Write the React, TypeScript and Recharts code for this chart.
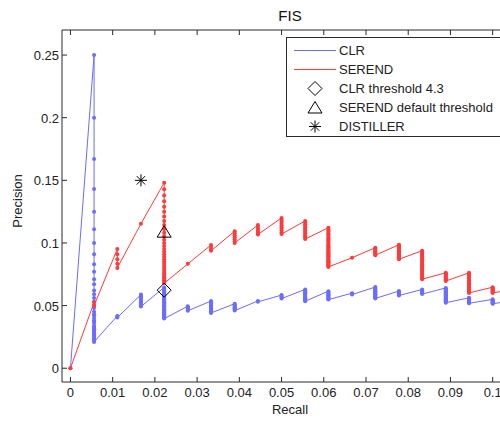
import { ComposedChart, Scatter, XAxis, YAxis } from "recharts";

const recallLevels = [
  0, 0.0056, 0.0111, 0.0167, 0.0222, 0.0278, 0.0333, 0.0389, 0.0444, 0.05,
  0.0556, 0.0611, 0.0667, 0.0722, 0.0778, 0.0833, 0.0889, 0.0944, 0.1, 0.1056,
];

// precision values in each column, top to bottom
const clrRuns = [
  [0],
  [0.25, 0.2, 0.167, 0.143, 0.125, 0.111, 0.1, 0.091, 0.083, 0.077, 0.071, 0.067, 0.062, 0.059, 0.056, 0.053, 0.05, 0.048, 0.045, 0.043, 0.042, 0.04, 0.038, 0.037, 0.036, 0.034, 0.033, 0.032, 0.031, 0.03, 0.029, 0.028, 0.027, 0.026, 0.025, 0.024, 0.023, 0.022, 0.021],
  [0.0417, 0.041, 0.0404],
  [0.0588, 0.0577, 0.0566, 0.0556, 0.0545, 0.0536, 0.0526, 0.0517, 0.0508, 0.05, 0.0492],
  [0.0645, 0.0635, 0.0625, 0.0615, 0.0606, 0.0597, 0.0588, 0.058, 0.0571, 0.0563, 0.0556, 0.0548, 0.0541, 0.0533, 0.0526, 0.0519, 0.0513, 0.0506, 0.05, 0.0494, 0.0488, 0.0482, 0.0476, 0.0471, 0.0465, 0.046, 0.0455, 0.0449, 0.0444, 0.044, 0.0435, 0.043, 0.0426, 0.0421, 0.0417, 0.0412, 0.0408, 0.0404, 0.04, 0.0396],
  [0.0495, 0.0485, 0.0476, 0.0467, 0.0459],
  [0.0536, 0.0526, 0.0517, 0.0508, 0.05, 0.0492, 0.0484, 0.0476, 0.0469, 0.0462, 0.0455, 0.0448, 0.0441],
  [0.0515, 0.0507, 0.05, 0.0493, 0.0486, 0.0479, 0.0473, 0.0467, 0.046],
  [0.0537, 0.053],
  [0.0584, 0.0577, 0.057, 0.0563, 0.0556],
  [0.0629, 0.0621, 0.0613, 0.0606, 0.0599, 0.0592, 0.0585, 0.0578, 0.0571, 0.0565, 0.0559, 0.0552, 0.0546, 0.054, 0.0535],
  [0.0615, 0.0608, 0.0601, 0.0594, 0.0588, 0.0582, 0.0576, 0.057, 0.0564, 0.0559, 0.0553, 0.0548],
  [0.0599, 0.0594, 0.0588],
  [0.0648, 0.0641, 0.0634, 0.0627, 0.0621, 0.0614, 0.0608, 0.0602, 0.0596, 0.059, 0.0584, 0.0578, 0.0573, 0.0567, 0.0562, 0.0557],
  [0.0616, 0.061, 0.0603, 0.0597, 0.0592, 0.0586, 0.058],
  [0.0629, 0.0622, 0.0616, 0.061, 0.0604, 0.0598, 0.0592],
  [0.0641, 0.0635, 0.0628, 0.0622, 0.0615, 0.0609, 0.0603, 0.0597, 0.0591, 0.0585, 0.058, 0.0574, 0.0569, 0.0563, 0.0558, 0.0553, 0.0548, 0.0543, 0.0538, 0.0533, 0.0528, 0.0523],
  [0.0562, 0.0556, 0.0551, 0.0546, 0.0541, 0.0536, 0.0531, 0.0527, 0.0522, 0.0518],
  [0.055, 0.0545, 0.054, 0.0535, 0.0531, 0.0526, 0.0522, 0.0517, 0.0514],
  [0.0546, 0.054],
];

const serendRuns = [
  [0],
  [0.0526, 0.05],
  [0.0952, 0.0909, 0.087, 0.0833, 0.08],
  [0.1154],
  [0.1481, 0.1429, 0.1379, 0.1333, 0.129, 0.125, 0.1212, 0.1176, 0.1143, 0.1111, 0.1081, 0.1053, 0.1026, 0.1, 0.0976, 0.0952, 0.093, 0.0909, 0.0889, 0.087, 0.0851, 0.0833, 0.0816, 0.08, 0.0784, 0.0769, 0.0755, 0.0741, 0.0727, 0.0714, 0.0702, 0.069, 0.0678],
  [0.0833],
  [0.0984, 0.0968, 0.0952, 0.0937],
  [0.1094, 0.1077, 0.1061, 0.1045, 0.1029, 0.1014, 0.1],
  [0.1143, 0.1127, 0.1111, 0.1096, 0.1081, 0.1067],
  [0.12, 0.1184, 0.1169, 0.1154, 0.1139, 0.1125, 0.1111, 0.1098, 0.1084, 0.1071],
  [0.1176, 0.1163, 0.1149, 0.1136, 0.1124, 0.1111, 0.1099, 0.1087, 0.1075, 0.1064, 0.1053, 0.1042, 0.1031],
  [0.1122, 0.1111, 0.11, 0.1089, 0.1078, 0.1068, 0.1058, 0.1048, 0.1038, 0.1028, 0.1019, 0.1009, 0.1, 0.0991, 0.0982, 0.0973, 0.0965, 0.0956, 0.0948, 0.094, 0.0932, 0.0924, 0.0917, 0.0909, 0.0902, 0.0894, 0.0887, 0.088, 0.0873, 0.0866, 0.0859, 0.0853, 0.0846, 0.084, 0.0833, 0.0827, 0.0821, 0.0815, 0.0809],
  [0.0882],
  [0.0962, 0.0954, 0.0946, 0.0939, 0.0931, 0.0924, 0.0917, 0.0909, 0.0902],
  [0.0986, 0.0979, 0.0972, 0.0966, 0.0959, 0.0952, 0.0946, 0.094, 0.0933, 0.0927, 0.0921, 0.0915, 0.0909, 0.0903, 0.0897, 0.0892, 0.0886, 0.0881, 0.0875, 0.087],
  [0.0938, 0.0926, 0.0914, 0.0903, 0.0892, 0.0881, 0.087, 0.086, 0.085, 0.084, 0.083, 0.0821, 0.0812, 0.0803, 0.0794, 0.0785, 0.0777, 0.0768, 0.076, 0.0752, 0.0744, 0.0737, 0.0729, 0.0722, 0.0714, 0.0711],
  [0.0762, 0.0754, 0.0747, 0.0739, 0.0732, 0.0724, 0.0717, 0.071, 0.0703, 0.0696],
  [0.0762, 0.075, 0.0738, 0.0726, 0.0714, 0.0702, 0.069, 0.0679, 0.0668, 0.0657, 0.0646, 0.0636, 0.0626, 0.0616, 0.0606, 0.0601],
  [0.0647, 0.0638, 0.063, 0.0622, 0.0614, 0.0607, 0.0601],
  [0.0634, 0.0627, 0.062],
];

const clrThreshold = [{ x: 0.0222, y: 0.0623 }];
const serendThreshold = [{ x: 0.0222, y: 0.1086 }];
const distiller = [{ x: 0.0167, y: 0.15 }];

const xTicks = [0, 0.01, 0.02, 0.03, 0.04, 0.05, 0.06, 0.07, 0.08, 0.09, 0.1];
const yTicks = [0, 0.05, 0.1, 0.15, 0.2, 0.25];

const BLUE = "#6c6cff";
const RED = "#ff3a3a";
const AXIS = "#2a2a2a";
const FONT = "'Liberation Sans', Arial, sans-serif";

function toPoints(runs: number[][]) {
  const pts: { x: number; y: number }[] = [];
  runs.forEach((run, i) => {
    run.forEach((p) => pts.push({ x: recallLevels[i], y: p }));
  });
  return pts;
}

const clrData = toPoints(clrRuns);
const serendData = toPoints(serendRuns);

const dot = (color: string) => (p: any) => (
  <circle cx={p.cx} cy={p.cy} r={2} fill={color} />
);

const Diamond = ({ cx, cy }: any) => (
  <path
    d={`M${cx},${cy - 7}L${cx + 7},${cy}L${cx},${cy + 7}L${cx - 7},${cy}Z`}
    fill="none"
    stroke="#000"
    strokeWidth={1}
  />
);

const Triangle = ({ cx, cy }: any) => (
  <path
    d={`M${cx},${cy - 6.5}L${cx + 7},${cy + 5}L${cx - 7},${cy + 5}Z`}
    fill="none"
    stroke="#000"
    strokeWidth={1}
  />
);

const Star = ({ cx, cy }: any) => (
  <g stroke="#000" strokeWidth={1}>
    <line x1={cx} y1={cy - 6} x2={cx} y2={cy + 6} />
    <line x1={cx - 6} y1={cy} x2={cx + 6} y2={cy} />
    <line x1={cx - 4.2} y1={cy - 4.2} x2={cx + 4.2} y2={cy + 4.2} />
    <line x1={cx - 4.2} y1={cy + 4.2} x2={cx + 4.2} y2={cy - 4.2} />
  </g>
);

const BottomTick = ({ x, y, payload }: any) => (
  <g>
    <line x1={x} y1={y} x2={x} y2={y - 5} stroke={AXIS} />
    <text x={x} y={y + 15} textAnchor="middle" fontSize={13} fontFamily={FONT} fill="#222">
      {String(payload.value)}
    </text>
  </g>
);

const TopTick = ({ x, y }: any) => (
  <line x1={x} y1={y} x2={x} y2={y + 5} stroke={AXIS} />
);

const LeftTick = ({ x, y, payload }: any) => (
  <g>
    <line x1={x} y1={y} x2={x + 5} y2={y} stroke={AXIS} />
    <text x={x - 3} y={y + 5} textAnchor="end" fontSize={13} fontFamily={FONT} fill="#222">
      {String(payload.value)}
    </text>
  </g>
);

const legendRows = [
  { label: "CLR", kind: "line", color: BLUE },
  { label: "SEREND", kind: "line", color: RED },
  { label: "CLR threshold 4.3", kind: "diamond" },
  { label: "SEREND default threshold", kind: "triangle" },
  { label: "DISTILLER", kind: "star" },
];

function LegendIcon({ kind, color }: { kind: string; color?: string }) {
  return (
    <svg width={44} height={19} style={{ display: "block" }}>
      {kind === "line" && <line x1={1} y1={9.5} x2={43} y2={9.5} stroke={color} strokeWidth={1.2} />}
      {kind === "diamond" && <Diamond cx={22} cy={9.5} />}
      {kind === "triangle" && <Triangle cx={22} cy={10} />}
      {kind === "star" && <Star cx={22} cy={9.5} />}
    </svg>
  );
}

export default function App() {
  return (
    <div
      style={{
        position: "absolute",
        left: 0,
        top: 0,
        width: 500,
        height: 422,
        overflow: "hidden",
        background: "#fff",
        fontFamily: FONT,
      }}
    >
      <div
        style={{
          position: "absolute",
          left: 240,
          top: 8,
          width: 100,
          textAlign: "center",
          fontSize: 15,
          lineHeight: "15px",
          color: "#111",
        }}
      >
        FIS
      </div>
      <div
        style={{
          position: "absolute",
          left: 240,
          top: 403,
          width: 100,
          textAlign: "center",
          fontSize: 13,
          lineHeight: "13px",
          color: "#222",
        }}
      >
        Recall
      </div>
      <div
        style={{
          position: "absolute",
          left: -32,
          top: 194,
          width: 100,
          height: 14,
          textAlign: "center",
          fontSize: 13,
          lineHeight: "14px",
          color: "#222",
          transform: "rotate(-90deg)",
        }}
      >
        Precision
      </div>

      <div style={{ position: "absolute", left: 0, top: 0 }}>
        <ComposedChart
          width={530}
          height={422}
          margin={{ top: 20, right: 12, bottom: 10, left: 22 }}
        >
          <XAxis
            xAxisId="b"
            dataKey="x"
            type="number"
            domain={[-0.002, 0.106]}
            ticks={xTicks}
            interval={0}
            allowDataOverflow
            height={30}
            tickSize={0}
            tickMargin={0}
            tickLine={false}
            axisLine={{ stroke: AXIS }}
            tick={<BottomTick />}
          />
          <XAxis
            xAxisId="t"
            orientation="top"
            dataKey="x"
            type="number"
            domain={[-0.002, 0.106]}
            ticks={xTicks}
            interval={0}
            allowDataOverflow
            height={10}
            tickSize={0}
            tickMargin={0}
            tickLine={false}
            axisLine={{ stroke: AXIS }}
            tick={<TopTick />}
          />
          <YAxis
            dataKey="y"
            type="number"
            domain={[-0.011, 0.27]}
            ticks={yTicks}
            interval={0}
            allowDataOverflow
            width={40}
            tickSize={0}
            tickMargin={0}
            tickLine={false}
            axisLine={{ stroke: AXIS }}
            tick={<LeftTick />}
          />
          <Scatter
            xAxisId="b"
            data={clrData}
            fill={BLUE}
            line={{ stroke: BLUE, strokeWidth: 1 }}
            shape={dot(BLUE)}
            isAnimationActive={false}
          />
          <Scatter
            xAxisId="b"
            data={serendData}
            fill={RED}
            line={{ stroke: RED, strokeWidth: 1 }}
            shape={dot(RED)}
            isAnimationActive={false}
          />
          <Scatter xAxisId="b" data={clrThreshold} shape={<Diamond />} isAnimationActive={false} />
          <Scatter xAxisId="b" data={serendThreshold} shape={<Triangle />} isAnimationActive={false} />
          <Scatter xAxisId="b" data={distiller} shape={<Star />} isAnimationActive={false} />
        </ComposedChart>
      </div>

      <div
        style={{
          position: "absolute",
          left: 286,
          top: 37,
          width: 230,
          height: 100,
          border: `1px solid ${AXIS}`,
          background: "#fff",
          paddingTop: 3,
          boxSizing: "border-box",
        }}
      >
        {legendRows.map((r) => (
          <div key={r.label} style={{ display: "flex", alignItems: "center", height: 19 }}>
            <div style={{ marginLeft: 6 }}>
              <LegendIcon kind={r.kind} color={r.color} />
            </div>
            <span style={{ marginLeft: 2, fontSize: 13, color: "#222", whiteSpace: "nowrap" }}>
              {r.label}
            </span>
          </div>
        ))}
      </div>
    </div>
  );
}
